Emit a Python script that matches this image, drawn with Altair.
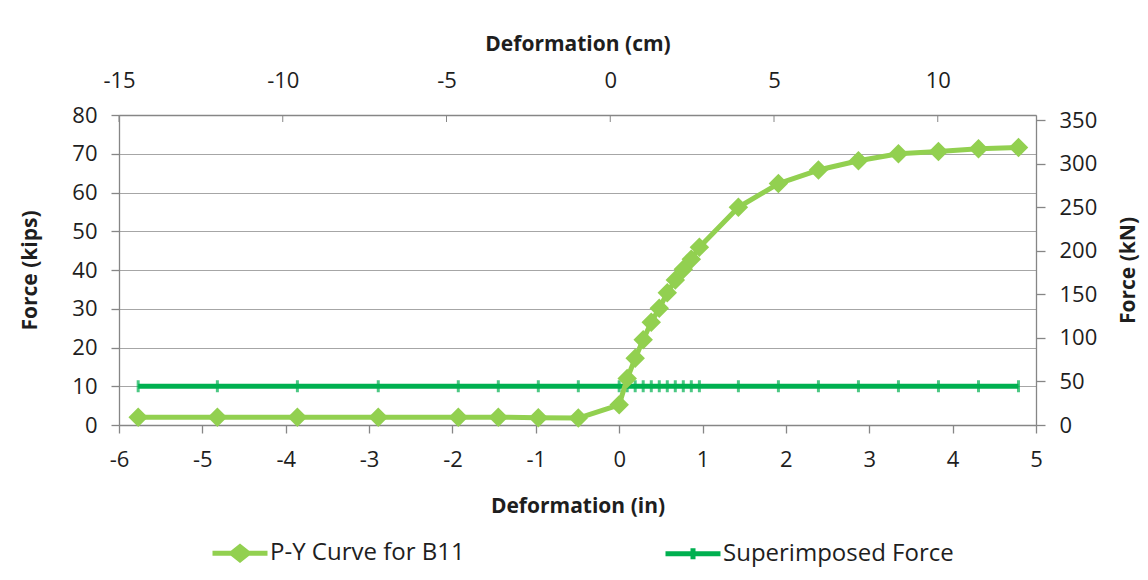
import altair as alt
import pandas as pd

# ---- data ----
deform_in = [-5.77, -4.82, -3.86, -2.89, -1.93, -1.45, -0.97, -0.49, 0.0,
             0.096, 0.192, 0.288, 0.385, 0.481, 0.577, 0.673, 0.769, 0.865, 0.962,
             1.43, 1.91, 2.39, 2.87, 3.35, 3.83, 4.31, 4.79]
py_kips = [2.0, 2.0, 2.0, 2.0, 2.0, 2.0, 1.9, 1.8, 5.2,
           12.0, 17.2, 22.0, 26.5, 30.1, 34.1, 37.4, 40.2, 42.8, 45.9,
           56.2, 62.3, 65.8, 68.2, 70.0, 70.6, 71.3, 71.6]
sup_kips = [10.0, 10.0, 10.0, 10.0, 10.0, 10.0, 10.0, 10.0, 10.0,
            10.0, 10.0, 10.0, 10.0, 10.0, 10.0, 10.0, 10.0, 10.0, 10.0,
            10.0, 10.0, 10.0, 10.0, 10.0, 10.0, 10.0, 10.0]
series_names = ["P-Y Curve for B11", "Superimposed Force"]
series_colors = ["#92D050", "#00B050"]
x_ticks_in = [-6, -5, -4, -3, -2, -1, 0, 1, 2, 3, 4, 5]
x_ticks_cm = [-15, -10, -5, 0, 5, 10]
y_ticks_kips = [0, 10, 20, 30, 40, 50, 60, 70, 80]
y_ticks_kn = [0, 50, 100, 150, 200, 250, 300, 350]

KN_PER_KIP = 4.44822
CM_PER_IN = 2.54

df_py = pd.DataFrame({"x": deform_in, "kips": py_kips})
df_py["cm"] = df_py["x"] * CM_PER_IN
df_py["kN"] = df_py["kips"] * KN_PER_KIP
df_sup = pd.DataFrame({"x": deform_in, "kips": sup_kips})
df_leg = pd.DataFrame({"series": series_names})
df_top = pd.DataFrame({"cm": x_ticks_cm})

FONT = "Open Sans"
AX = "#868686"
TXT = "#1e1e1e"
LBL = "datum.value + ''"

x_scale = alt.Scale(domain=[-6, 5], nice=False)
y_scale = alt.Scale(domain=[0, 80], nice=False)
cm_scale = alt.Scale(domain=[-15, 13], nice=False)
kn_scale = alt.Scale(domain=[0, 80 * KN_PER_KIP], nice=False)

x_axis = alt.Axis(orient="bottom", values=x_ticks_in, title="Deformation (in)", grid=False,
                  tickSize=8, labelPadding=16, titlePadding=25, labelExpr=LBL,
                  labelFlush=False)
y_axis = alt.Axis(orient="left", values=y_ticks_kips, title="Force (kips)", grid=True,
                  gridColor="#A6A6A6", gridWidth=1, tickSize=8, labelPadding=14,
                  titlePadding=31, labelExpr=LBL, labelFlush=False)
cm_axis = alt.Axis(orient="top", values=x_ticks_cm, title="Deformation (cm)", grid=False,
                   ticks=False, tickSize=0, labelPadding=23, titlePadding=15, labelExpr=LBL,
                   labelFlush=False)
kn_axis = alt.Axis(orient="right", values=y_ticks_kn, title="Force (kN)", grid=False,
                   tickSize=9, labelPadding=14, titlePadding=21, titleAngle=270,
                   titleBaseline="top", labelExpr=LBL, labelFlush=False)

X = alt.X("x:Q", scale=x_scale, axis=x_axis)
Y = alt.Y("kips:Q", scale=y_scale, axis=y_axis)

sup_line = alt.Chart(df_sup).mark_line(color=series_colors[1], strokeWidth=5).encode(x=X, y=Y)
sup_marks = alt.Chart(df_sup).mark_tick(color=series_colors[1], orient="vertical",
                                        size=12, thickness=3).encode(x=X, y=Y)
py_line = alt.Chart(df_py).mark_line(color=series_colors[0], strokeWidth=5,
                                     strokeJoin="round").encode(x=X, y=Y)
py_pts = alt.Chart(df_py).mark_point(shape="diamond", filled=True, opacity=1,
                                     color=series_colors[0], size=380).encode(x=X, y=Y)

leg = alt.Legend(title=None, orient="none", legendX=91, legendY=408, direction="horizontal",
                 symbolSize=3025, symbolStrokeWidth=5, symbolOpacity=1,
                 labelFont=FONT, labelFontSize=24, labelColor=TXT, labelOffset=0,
                 columnPadding=190, padding=0, labelLimit=400)
py_path = "M-1,0L1,0M0,-0.24L0.3,0L0,0.24L-0.3,0Z"
sup_path = "M-1,0L1,0M0,-0.2L0,0.2"
leg_scale = alt.Scale(domain=series_names, range=series_colors)
legend_layer = alt.Chart(df_leg).mark_point(opacity=0, strokeWidth=5).encode(
    fill=alt.Fill("series:N", scale=leg_scale, legend=leg),
    stroke=alt.Stroke("series:N", scale=leg_scale, legend=leg),
    shape=alt.Shape("series:N", scale=alt.Scale(domain=series_names, range=[py_path, sup_path]),
                    legend=leg),
)

inner = alt.layer(sup_line, sup_marks, py_line, py_pts, legend_layer)

sec_pts = alt.Chart(df_py).mark_point(opacity=0).encode(
    x=alt.X("cm:Q", scale=cm_scale, axis=cm_axis),
    y=alt.Y("kN:Q", scale=kn_scale, axis=kn_axis),
)
top_ticks = alt.Chart(df_top).mark_rule(color=AX, strokeWidth=1).encode(
    x=alt.X("cm:Q", scale=cm_scale, axis=cm_axis),
    y=alt.value(0),
    y2=alt.value(7),
)
secondary = alt.layer(sec_pts, top_ticks)

chart = alt.layer(inner, secondary).resolve_scale(
    x="independent", y="independent"
).properties(
    width=917, height=310,
    autosize=alt.AutoSizeParams(type="none"),
    padding={"left": 111, "top": 107, "right": 104, "bottom": 142},
    background="white",
).configure_view(stroke=None).configure_axis(
    labelFont=FONT, labelFontSize=22, labelColor=TXT,
    titleFont=FONT, titleFontSize=21, titleFontWeight="bold", titleColor=TXT,
    domainColor=AX, domainWidth=1.3, tickColor=AX, tickWidth=1.3,
)

chart.save("out.html", embed_options={"renderer": "svg", "actions": False})
